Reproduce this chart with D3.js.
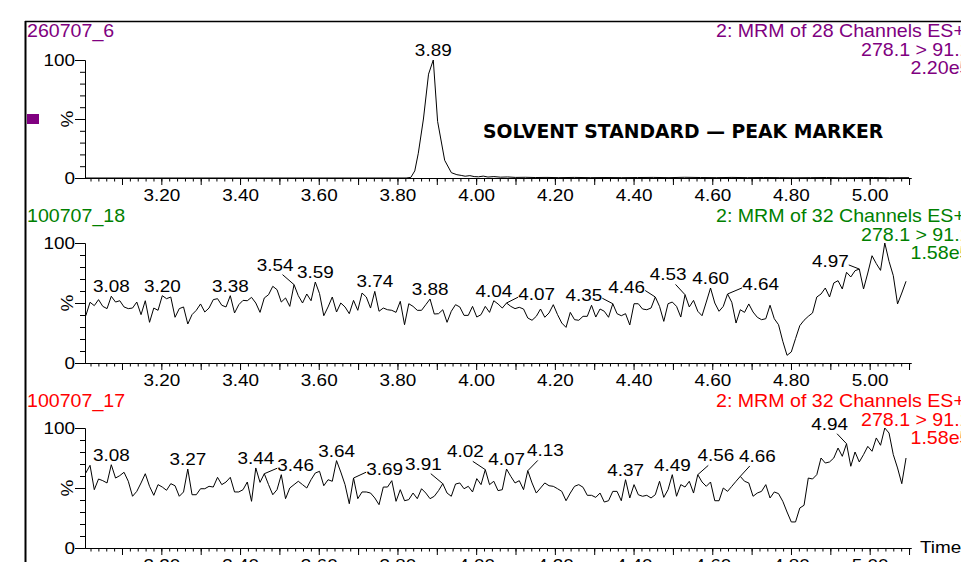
<!DOCTYPE html>
<html>
<head>
<meta charset="utf-8">
<script src="https://cdn.jsdelivr.net/npm/d3@7"></script>
<style>
html, body { margin: 0; padding: 0; background: #fff; overflow: hidden; }
</style>
</head>
<body>
<div id="chart"></div>
<script>
// ---- data ----
const sampleNames = ["260707_6", "100707_18", "100707_17"];
const channelLines = ["2: MRM of 28 Channels ES+", "2: MRM of 32 Channels ES+", "2: MRM of 32 Channels ES+"];
const transitionLines = ["278.1 > 91.1", "278.1 > 91.1", "278.1 > 91.1"];
const intensityLines = ["2.20e5", "1.58e5", "1.58e5"];
const sampleColors = ["#800080", "#008000", "#ff0000"];

const xTickLabels = [3.2, 3.4, 3.6, 3.8, 4.0, 4.2, 4.4, 4.6, 4.8, 5.0];
const yTickLabels = [0, 100];

// panel 1: sparse trace (flat baseline, one peak)
const times1 = [3.006, 3.822, 3.834, 3.844, 3.853, 3.866, 3.879, 3.891, 3.902, 3.920, 3.937, 3.951,
  3.962, 3.972, 3.984, 3.995, 4.006, 4.018, 4.030, 4.045, 4.062, 4.080, 4.100, 4.125, 4.150, 4.18,
  4.21, 4.25, 4.29, 4.33, 4.37, 4.41, 4.45, 4.49, 4.53, 4.57, 4.61, 4.65, 4.69, 4.73, 4.77, 4.81,
  4.85, 4.89, 4.93, 4.97, 5.01, 5.05, 5.10];
const values1 = [0, 0, 0.5, 6, 21, 50, 88, 100, 48, 15, 4.5, 2.8,
  2.2, 1.5, 2.0, 1.2, 1.0, 1.6, 0.8, 1.2, 0.7, 0.9, 0.5, 0.6, 0.4, 0.5,
  0.3, 0.5, 0.3, 0.4, 0.3, 0.4, 0.5, 0.3, 0.6, 0.4, 0.3, 0.5, 0.3, 0.4, 0.3, 0.2,
  0.3, 0.4, 0.2, 0.3, 0.4, 0.2, 0.3];
const peaks1 = ["3.89"];

// panels 2 and 3: one value per scan
const scanStart = 3.008, scanStep = 0.0108;
const values2 = [
  39.4, 50.6, 47.8, 52.8, 47.2, 45.3, 55.6, 50.8, 51.9, 46.7,
  45.3, 45.8, 50.8, 40.3, 51.9, 33.9, 45.8, 43.9, 56.1, 53.6,
  55.0, 38.1, 45.3, 46.7, 32.5, 40.3, 43.9, 49.2, 42.5, 45.8,
  52.8, 53.6, 48.1, 46.7, 56.1, 41.7, 48.6, 52.2, 51.9, 54.7,
  50.0, 42.2, 54.2, 56.9, 63.9, 61.1, 50.8, 54.2, 47.2, 65.3,
  56.1, 50.0, 57.5, 51.9, 67.5, 57.8, 39.4, 46.7, 55.0, 42.5,
  50.0, 46.7, 41.1, 52.2, 43.9, 58.3, 55.0, 45.8, 59.7, 43.1,
  45.8, 44.4, 43.9, 42.2, 51.4, 31.9, 49.4, 47.2, 43.9, 43.9,
  48.6, 53.3, 40.8, 41.1, 44.4, 33.9, 43.1, 48.6, 46.7, 39.7,
  39.7, 47.2, 38.3, 40.3, 47.2, 42.2, 51.9, 49.2, 45.8, 50.0,
  47.2, 45.3, 46.4, 45.0, 37.5, 35.6, 38.9, 45.0, 38.1, 41.7,
  48.6, 40.3, 33.3, 29.7, 42.2, 36.1, 35.6, 38.9, 38.9, 48.1,
  38.3, 45.0, 43.1, 38.1, 49.4, 41.1, 39.4, 41.1, 31.7, 49.4,
  49.4, 45.0, 44.4, 45.8, 55.0, 47.2, 34.7, 49.4, 50.8, 47.2,
  38.3, 56.9, 46.7, 52.2, 43.1, 39.4, 50.8, 62.5, 50.0, 43.1,
  47.2, 57.5, 50.6, 33.3, 44.4, 42.2, 49.2, 42.5, 38.1, 36.1,
  36.9, 48.1, 36.9, 31.9, 18.1, 6.4, 9.2, 20.3, 31.1, 35.6,
  38.9, 41.7, 55.0, 57.5, 62.5, 55.0, 66.7, 68.6, 61.7, 75.6,
  71.7, 76.9, 78.3, 61.7, 75.0, 89.4, 82.8, 77.2, 100, 84.7,
  72.8, 49.2, 58.3, 68.1
];
const peaks2 = ["3.08", "3.20", "3.38", "3.54", "3.59", "3.74", "3.88", "4.04", "4.07",
  "4.35", "4.46", "4.53", "4.60", "4.64", "4.97"];

const values3 = [
  62.5, 68.9, 48.6, 57.5, 56.1, 54.2, 69.4, 58.3, 60.3, 63.1,
  55.6, 43.1, 47.2, 54.2, 61.9, 51.4, 43.9, 52.8, 50.8, 48.1,
  53.6, 51.9, 43.1, 46.7, 65.8, 44.4, 44.4, 49.4, 49.4, 51.4,
  50.8, 58.9, 52.8, 55.0, 58.9, 46.7, 46.7, 48.6, 55.0, 38.9,
  66.7, 54.7, 61.9, 52.8, 44.4, 48.6, 61.1, 41.1, 50.0, 52.8,
  55.6, 52.8, 50.0, 56.9, 62.5, 63.9, 51.9, 56.9, 55.6, 72.8,
  63.3, 52.8, 36.9, 58.3, 41.1, 46.7, 46.7, 45.8, 41.7, 36.1,
  50.8, 50.8, 56.1, 38.9, 48.6, 39.4, 40.3, 45.8, 41.1, 49.4,
  45.8, 41.1, 43.1, 47.8, 53.6, 45.8, 43.1, 53.3, 54.2, 49.4,
  51.4, 46.7, 57.8, 52.8, 65.3, 52.8, 55.6, 47.8, 48.6, 65.8,
  59.7, 54.2, 56.1, 48.6, 64.4, 54.2, 45.8, 50.0, 54.2, 51.9,
  51.4, 49.4, 47.2, 39.4, 45.8, 51.4, 52.8, 50.6, 43.9, 43.9,
  42.2, 45.8, 38.3, 39.4, 47.2, 47.2, 39.4, 56.9, 41.7, 52.8,
  44.4, 43.1, 43.9, 41.7, 44.4, 55.6, 42.2, 48.6, 61.1, 43.1,
  52.8, 50.8, 55.6, 45.8, 61.1, 55.0, 51.4, 55.0, 39.4, 39.4,
  50.0, 47.2, 51.4, 55.6, 59.7, 55.6, 54.2, 43.1, 45.8, 47.2,
  52.8, 41.7, 46.7, 45.3, 38.9, 30.0, 21.7, 21.7, 33.3, 35.6,
  58.3, 57.5, 61.1, 75.0, 70.8, 71.7, 75.0, 83.3, 76.4, 86.9,
  68.1, 80.0, 71.7, 77.8, 84.7, 80.6, 91.7, 85.6, 100, 95.8,
  77.8, 66.7, 53.6, 75.0
];
const peaks3 = ["3.08", "3.27", "3.44", "3.46", "3.64", "3.69", "3.91", "4.02", "4.07",
  "4.13", "4.37", "4.49", "4.56", "4.66", "4.94"];

// ---- layout ----
const W = 961, H = 562;
const panelBase = [178, 363, 548];
const panelTop = [60, 243, 428];
// label placement relative to apex [dx, dy]; labels not listed sit right above their peak
const labelOffsets = [
  {},
  {"3.54": [-19, -14], "4.07": [30, -3.3], "4.35": [-29, -3], "4.46": [-28.6, -4],
   "4.53": [-17, -14.3], "4.64": [33, -3.6], "4.97": [-29, -1.6]},
  {"3.46": [31.4, -3], "3.69": [31, -3.3], "3.91": [-19.5, -14], "4.02": [-20, -12.3],
   "4.13": [17.5, -14.3], "4.56": [18, -13.3], "4.66": [17, -14.4], "4.94": [-17, -14]}
];

const labelFont = "16.3px 'Liberation Sans', Arial, sans-serif";
const labelStretch = 1.16;
const headFont = "18.5px 'Liberation Sans', Arial, sans-serif";
const headStretch = 1.06;

const svg = d3.select("#chart").append("svg")
  .attr("width", W).attr("height", H);

// stretched text helper (the original renders glyphs wider than normal)
function addText(g, px, py, str, font, sx, anchor, color) {
  return g.append("text")
    .attr("transform", `translate(${px},${py}) scale(${sx},1)`)
    .attr("text-anchor", anchor || "start")
    .style("font", font)
    .attr("fill", color || "#000")
    .text(str);
}

// window frame
svg.append("line").attr("x1", 25).attr("x2", W).attr("y1", 21.5).attr("y2", 21.5)
  .attr("stroke", "#000").attr("stroke-width", 1.5);
svg.append("line").attr("x1", 25.5).attr("x2", 25.5).attr("y1", 21).attr("y2", H)
  .attr("stroke", "#000").attr("stroke-width", 2);

const x = d3.scaleLinear().domain([3.006, 5.105]).range([85, 911]);
const minorTicks = d3.range(151, 256).map(i => i / 50);
const majorTicks = d3.range(31, 52).map(i => i / 10);
const fmt = d3.format(".2f");

const panels = [
  {pts: times1.map((t, i) => [t, values1[i]]), peaks: peaks1},
  {pts: values2.map((v, i) => [scanStart + i * scanStep, v]), peaks: peaks2},
  {pts: values3.map((v, i) => [scanStart + i * scanStep, v]), peaks: peaks3}
];

panels.forEach((p, k) => {
  const base = panelBase[k];
  const y = d3.scaleLinear().domain([0, 100]).range([base, panelTop[k]]);
  const g = svg.append("g");

  // x axis: minor ticks, major ticks, labels
  g.append("g").attr("transform", `translate(0,${base})`)
    .call(d3.axisBottom(x).tickValues(minorTicks).tickSize(3.5).tickSizeOuter(0).tickFormat(""));
  const gx = g.append("g").attr("transform", `translate(0,${base})`)
    .call(d3.axisBottom(x).tickValues(majorTicks).tickSize(7).tickSizeOuter(0)
      .tickFormat(d => xTickLabels.some(v => Math.abs(v - d) < 1e-6) ? fmt(d) : ""));
  gx.selectAll("text")
    .attr("y", 23.2).attr("dy", 0)
    .attr("transform", `scale(${labelStretch},1)`)
    .style("font", labelFont).attr("fill", "#000");

  // y axis
  g.append("g").attr("transform", "translate(85,0)")
    .call(d3.axisLeft(y).tickValues(d3.range(0, 101, 10)).tickSize(5).tickSizeOuter(0).tickFormat(""));
  g.append("g").attr("transform", "translate(85,0)")
    .call(d3.axisLeft(y).tickValues([0, 50, 100]).tickSize(10).tickSizeOuter(0).tickFormat(""));
  yTickLabels.forEach(v => addText(g, 75, y(v) + 6, String(v), labelFont, labelStretch, "end"));
  g.append("text")
    .attr("transform", `translate(73,${y(50)}) rotate(-90) scale(${labelStretch},1)`)
    .attr("text-anchor", "middle").style("font", labelFont).text("%");

  // trace
  g.append("path")
    .datum(p.pts)
    .attr("fill", "none").attr("stroke", "#000").attr("stroke-width", 1)
    .attr("stroke-linejoin", "miter")
    .attr("d", d3.line().x(d => x(d[0])).y(d => y(d[1])));

  // peak labels
  p.peaks.forEach(lbl => {
    const t = +lbl;
    let ni = d3.minIndex(p.pts, d => Math.abs(d[0] - t));
    let best = ni;
    for (let j = ni - 1; j <= ni + 1; j++) {
      if (j >= 0 && j < p.pts.length && p.pts[j][1] > p.pts[best][1]) best = j;
    }
    const ax = x(p.pts[best][0]), ay = y(p.pts[best][1]);
    const off = labelOffsets[k][lbl] || [0, -4];
    const cx = ax + off[0], by = ay + off[1];
    addText(g, cx, by, lbl, labelFont, labelStretch, "middle");
    if (off[0] !== 0) {
      const s = Math.sign(off[0]);
      let sx, sy;
      if (Math.abs(off[0]) >= 25) { sx = cx - s * 18.5; sy = by - 2.5; }
      else { sx = cx - s * 7.5; sy = by + 4; }
      g.append("line").attr("x1", sx).attr("y1", sy).attr("x2", ax).attr("y2", ay)
        .attr("stroke", "#000").attr("stroke-width", 1);
    }
  });

  // headers
  const hy = base - 141;
  const col = sampleColors[k];
  addText(g, 27, hy, sampleNames[k], headFont, headStretch, "start", col);
  addText(g, 716, hy, channelLines[k], headFont, headStretch, "start", col);
  addText(g, 861, hy + 19, transitionLines[k], headFont, headStretch, "start", col);
  addText(g, 910.5, hy + 37, intensityLines[k], headFont, headStretch, "start", col);
});

// marker square and title in the first panel
svg.append("rect").attr("x", 27).attr("y", 114).attr("width", 12).attr("height", 10)
  .attr("fill", sampleColors[0]);
svg.append("text").attr("x", 483).attr("y", 138)
  .style("font", "bold 18.8px 'DejaVu Sans', Verdana, sans-serif")
  .text("SOLVENT STANDARD \u2014 PEAK MARKER");

addText(svg, 920, 553, "Time", labelFont, labelStretch, "start");
</script>
</body>
</html>
